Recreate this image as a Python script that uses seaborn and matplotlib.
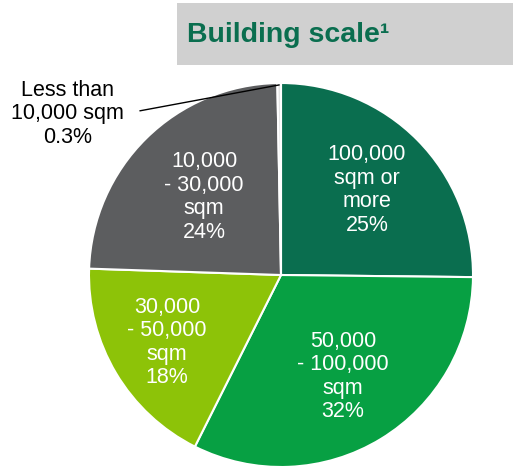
import numpy as np
import seaborn as sns
import matplotlib.pyplot as plt
from matplotlib.patches import Rectangle

# slices, clockwise from 12 o'clock
categories = ["100,000\nsqm or\nmore", "50,000\n- 100,000\nsqm", "30,000\n- 50,000\nsqm",
              "10,000\n- 30,000\nsqm", "Less than\n10,000 sqm"]
shares = [25, 32, 18, 24, 0.3]
share_labels = ["25%", "32%", "18%", "24%", "0.3%"]
colors = ["#0A6E4F", "#07A043", "#8DC308", "#5C5D5F", "#E4E4E4"]

sns.set_style("white")
plt.rcParams['font.family'] = ['Liberation Sans', 'DejaVu Sans']

fig = plt.figure(figsize=(5.13, 4.69), dpi=100)

# grey title box
fig.patches.append(Rectangle((177 / 513, 1 - 65 / 469), 1 - 177 / 513, 62 / 469,
                             transform=fig.transFigure, facecolor="#D0D0D0",
                             edgecolor="none", zorder=0))
fig.text(288 / 513, 1 - 35 / 469, "Building scale¹", ha="center", va="center",
         fontsize=20.5, fontweight="bold", color="#0A6E4F")

ax = fig.add_axes([89 / 513, 2 / 469, 384 / 513, 384 / 469])
wedges, _ = ax.pie(shares, colors=colors, startangle=90, counterclock=False,
                   wedgeprops=dict(edgecolor="white", linewidth=1.5))
ax.set_xlim(-1, 1)
ax.set_ylim(-1, 1)
ax.set_aspect("equal")
ax.axis("off")

# in-slice labels
dist = [0.63, 0.62, 0.69, 0.57]
for w, cat, lab, d in zip(wedges[:4], categories[:4], share_labels[:4], dist):
    ang = np.deg2rad((w.theta1 + w.theta2) / 2)
    ax.text(d * np.cos(ang), d * np.sin(ang), cat + "\n" + lab, ha="center",
            va="center", color="white", fontsize=15.5, linespacing=1.15)

# small slice: label outside with a leader line
w = wedges[4]
ang = np.deg2rad((w.theta1 + w.theta2) / 2)
ax.annotate(categories[4] + "\n" + share_labels[4],
            xy=(0.99 * np.cos(ang), 0.99 * np.sin(ang)),
            xytext=(-1.11, 0.84), ha="center", va="center", fontsize=15.5,
            linespacing=1.15, color="black",
            arrowprops=dict(arrowstyle="-", color="black", lw=1,
                            shrinkA=9, shrinkB=0, relpos=(1.0, 0.5)),
            annotation_clip=False)

fig.savefig("out.png", dpi=100)
